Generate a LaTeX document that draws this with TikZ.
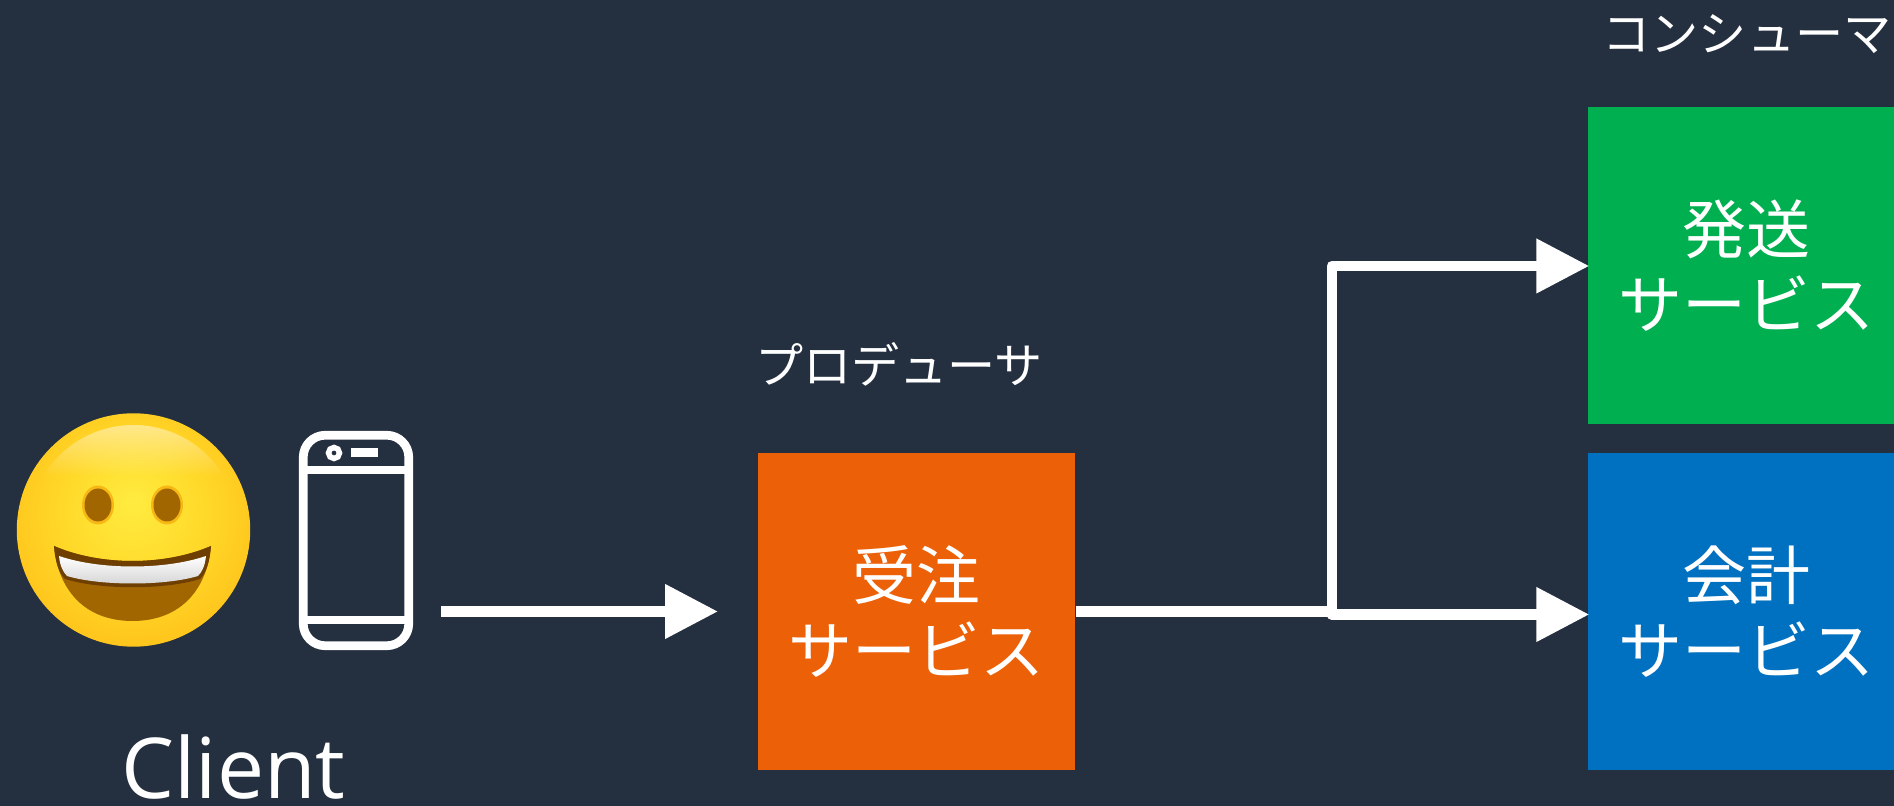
\documentclass[tikz,border=0pt]{standalone}
\usepackage{fontspec}
\setmainfont{Open Sans}
\newfontfamily\jpfont{Noto Sans CJK JP}
\usetikzlibrary{arrows.meta}
\usetikzlibrary{fadings}
\definecolor{bgdark}{HTML}{242F3F}
\definecolor{ordercol}{HTML}{EC6007}
\definecolor{shipcol}{HTML}{00B050}
\definecolor{billcol}{HTML}{0070C0}
\definecolor{mouthcol}{HTML}{A16600}
\definecolor{lipcol}{HTML}{6E3F00}
\definecolor{eyeglow}{HTML}{F8B814}
\definecolor{facemid}{HTML}{FFEC40}
\definecolor{faceup}{HTML}{FFD828}
\definecolor{facelow}{HTML}{FFBE18}
\definecolor{faceedge}{HTML}{FBA80A}
\definecolor{facerim}{HTML}{EE9000}
\pgfdeclareradialshading{facefill}{\pgfpoint{0bp}{6bp}}{color(0bp)=(facemid); color(16bp)=(faceup); color(32bp)=(facelow); color(42bp)=(faceedge); color(50bp)=(facerim)}
\tikzset{
  service/.style={fill=#1, text=white, minimum size=3.17cm, inner sep=0pt, align=center, font={\jpfont\fontsize{18.2}{21.3}\selectfont}},
  rolelabel/.style={text=white, inner sep=0pt, font={\jpfont\fontsize{13.7}{16}\selectfont}},
  flow/.style={draw=white, line width=1.08mm, line join=round},
  flowtip/.style={flow, shorten >=-0.2mm, -{Triangle[length=5.3mm, width=5.2mm]}},
  phoneline/.style={draw=white, line width=0.87mm}
}
\begin{document}
\begin{tikzpicture}
\useasboundingbox (0,0) rectangle (18.94,8.06);
\clip (0,0) rectangle (18.94,8.06);
\fill[bgdark] (0,0) rectangle (18.94,8.06);

\node[service=ordercol] (order) at (9.165,1.945) {受注\\サービス};
\node[service=shipcol] (ship) at (17.465,5.405) {発送\\サービス};
\node[service=billcol] (bill) at (17.465,1.945) {会計\\サービス};
\node[rolelabel] (producer) at (8.99,4.42) {プロデューサ};
\node[rolelabel] (consumer) at (17.47,7.72) {コンシューマ};
\node[text=white, inner sep=0pt, font=\fontsize{23.9}{28}\selectfont] (client) at (2.335,0.39) {Client};

% phone
\node[phoneline, rounded corners=2.2mm, minimum width=1.055cm, minimum height=2.105cm, inner sep=0pt] (phone) at (3.56,2.655) {};
\draw[phoneline] (phone.west |- 0,3.36) -- (phone.east |- 0,3.36);
\draw[phoneline] (phone.west |- 0,1.86) -- (phone.east |- 0,1.86);
\draw[white, line width=0.55mm] (3.34,3.53) circle (0.055);
\fill[white] (3.51,3.49) rectangle (3.78,3.58);

% smiley
\shade[shading=facefill] (1.335,2.76) circle (1.167);
\begin{scope}
\clip (1.335,2.76) circle (1.05);
\fill[white, opacity=0.5, path fading=south] (0.2,3.3) rectangle (2.5,3.85);
\end{scope}
\fill[eyeglow] (0.98,3.01) ellipse (0.16 and 0.195);
\fill[eyeglow] (1.67,3.01) ellipse (0.16 and 0.195);
\fill[mouthcol] (0.98,3.01) ellipse (0.135 and 0.165);
\fill[mouthcol] (1.67,3.01) ellipse (0.135 and 0.165);
\fill[mouthcol] (0.54,2.6) .. controls (1.0,2.4) and (1.65,2.4) .. (2.11,2.6) .. controls (2.06,2.1) and (1.75,1.85) .. (1.325,1.85) .. controls (0.9,1.85) and (0.59,2.1) .. (0.54,2.6) -- cycle;
\fill[lipcol] (0.54,2.6) .. controls (1.0,2.4) and (1.65,2.4) .. (2.11,2.6) .. controls (2.1,2.45) and (2.06,2.32) .. (2.0,2.27) .. controls (1.65,2.16) and (1.0,2.16) .. (0.65,2.27) .. controls (0.59,2.32) and (0.55,2.45) .. (0.54,2.6) -- cycle;
\shade[top color=white, bottom color=gray!35] (0.59,2.5) .. controls (1.0,2.36) and (1.65,2.36) .. (2.06,2.5) .. controls (2.05,2.4) and (2.02,2.34) .. (1.98,2.3) .. controls (1.65,2.2) and (1.0,2.2) .. (0.67,2.3) .. controls (0.63,2.34) and (0.6,2.4) .. (0.59,2.5) -- cycle;

\coordinate (clientout) at (4.41,1.945);
\coordinate (orderin) at (7.16,1.945);
\coordinate (splitmid) at (13.32,1.945);
\coordinate (splitlow) at (13.32,1.915);
\coordinate (splittop) at (13.32,5.4);
\coordinate (billin) at (bill.west |- splitlow);

\draw[flowtip] (clientout) -- (orderin);
\draw[flow] (order.east) -- (splitmid);
\draw[flowtip, line cap=round] (splitlow) -- (billin);
\draw[flowtip, line cap=round] (splitlow) -- (splittop) -- (ship.west |- splittop);
\end{tikzpicture}
\end{document}
